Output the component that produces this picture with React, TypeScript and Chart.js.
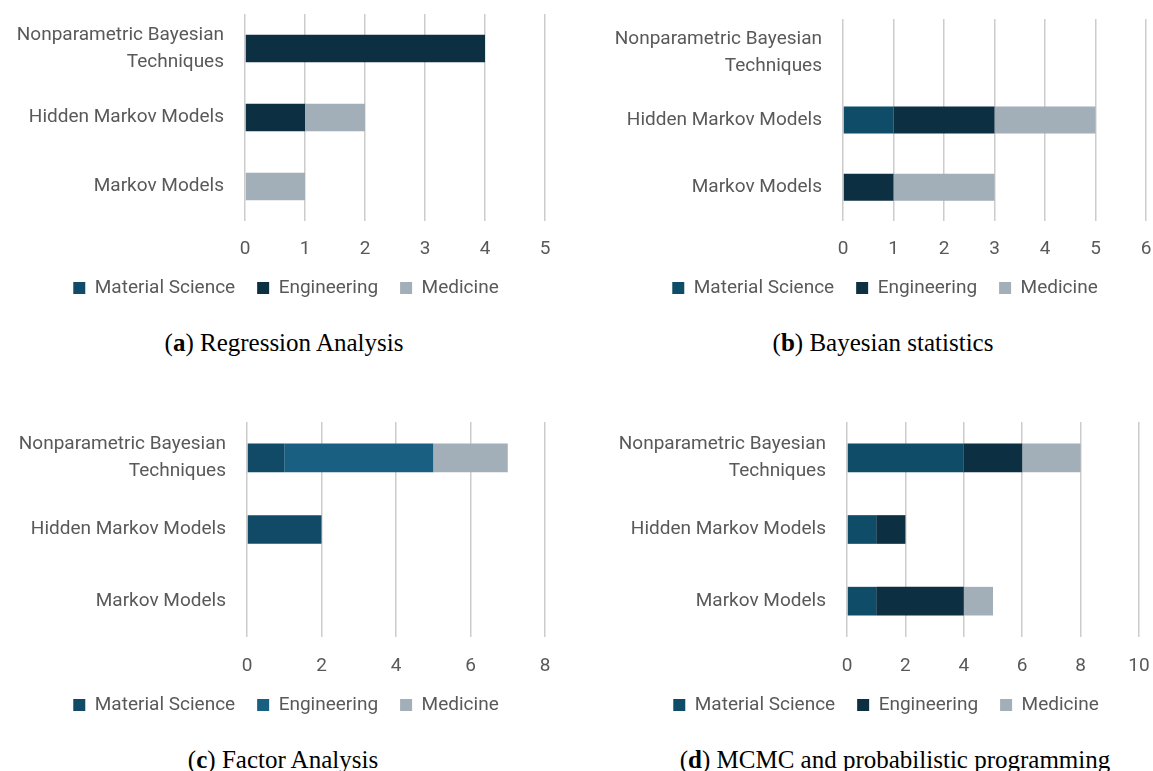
import React, { useEffect, useRef } from "react";
import { Chart, registerables } from "chart.js";

Chart.register(...registerables);

// ---- data ----
const categories = ["Nonparametric Bayesian Techniques", "Hidden Markov Models", "Markov Models"];
const categoryTickLabels: (string | string[])[] = [
  ["Nonparametric Bayesian", "Techniques"],
  "Hidden Markov Models",
  "Markov Models",
];
const seriesNames = ["Material Science", "Engineering", "Medicine"];

// (a) Regression Analysis
const regressionMaterial = [0, 0, 0];
const regressionEngineering = [4, 1, 0];
const regressionMedicine = [0, 1, 1];

// (b) Bayesian statistics
const bayesianMaterial = [0, 1, 0];
const bayesianEngineering = [0, 2, 1];
const bayesianMedicine = [0, 2, 2];

// (c) Factor Analysis
const factorMaterial = [1, 2, 0];
const factorEngineering = [4, 0, 0];
const factorMedicine = [2, 0, 0];

// (d) MCMC and probabilistic programming
const mcmcMaterial = [4, 1, 1];
const mcmcEngineering = [2, 1, 3];
const mcmcMedicine = [2, 0, 1];

const xMaxA = 5, xStepA = 1;
const xMaxB = 6, xStepB = 1;
const xMaxC = 8, xStepC = 2;
const xMaxD = 10, xStepD = 2;

// ---- styles ----
const colorsStandard = ["#0f4c68", "#0c2f42", "#a2aeb8"];
const colorsFactor = ["#104a67", "#185f81", "#a2aeb8"];
const textColor = "#595959";
const gridColor = "#cccccc";
const sansFamily = "Roboto, 'Liberation Sans', Arial, sans-serif";

type PanelLayout = {
  left: number; top: number; width: number; height: number;
  padT: number; padB: number; padR: number;
  xAxisH: number; tickPad: number; yAxisW: number; legendDx: number;
};

type PanelProps = {
  values: number[][];
  colors: string[];
  xMax: number;
  xStep: number;
  layout: PanelLayout;
};

const legendShiftPlugin = {
  id: "legendShift",
  afterLayout(chart: any, _args: any, opts: any) {
    const lg = chart.legend;
    if (lg && opts && opts.dx) {
      lg.left += opts.dx;
      lg.right += opts.dx;
    }
  },
};

function Panel({ values, colors, xMax, xStep, layout }: PanelProps) {
  const ref = useRef<HTMLCanvasElement | null>(null);
  useEffect(() => {
    if (!ref.current) return;
    const chart = new Chart(ref.current, {
      type: "bar",
      data: {
        labels: categoryTickLabels as any,
        datasets: seriesNames.map((name, i) => ({
          label: name,
          data: values[i],
          backgroundColor: colors[i],
          borderWidth: 0,
          barPercentage: 0.4,
          categoryPercentage: 1,
        })),
      },
      plugins: [legendShiftPlugin],
      options: {
        indexAxis: "y",
        animation: false,
        responsive: false,
        maintainAspectRatio: false,
        devicePixelRatio: 1,
        layout: {
          padding: { left: 0, right: layout.padR, top: layout.padT, bottom: layout.padB },
        },
        plugins: {
          legendShift: { dx: layout.legendDx },
          legend: {
            position: "bottom",
            labels: {
              boxWidth: 12,
              boxHeight: 12,
              padding: 22,
              color: textColor,
              font: { family: sansFamily, size: 19 },
            },
          },
          tooltip: { enabled: false },
          title: { display: false },
        },
        scales: {
          x: {
            stacked: true,
            min: 0,
            max: xMax,
            ticks: {
              stepSize: xStep,
              color: textColor,
              padding: layout.tickPad,
              font: { family: sansFamily, size: 19, lineHeight: 1.2 },
            },
            grid: { color: gridColor, lineWidth: 1.5, drawTicks: false },
            border: { display: false },
            afterFit: (s: any) => {
              s.height = layout.xAxisH;
              s.paddingLeft = 0;
              s.paddingRight = 0;
            },
          },
          y: {
            stacked: true,
            grid: { display: false, drawTicks: false },
            border: { display: false },
            ticks: {
              color: textColor,
              padding: 21,
              font: { family: sansFamily, size: 19, lineHeight: 1.4 },
            },
            afterFit: (s: any) => {
              s.width = layout.yAxisW;
              s.paddingTop = 0;
              s.paddingBottom = 0;
            },
          },
        },
      } as any,
    });
    return () => chart.destroy();
  }, []);
  return (
    <canvas
      ref={ref}
      width={layout.width}
      height={layout.height}
      style={{ position: "absolute", left: layout.left, top: layout.top, width: layout.width, height: layout.height }}
    />
  );
}

const layoutA: PanelLayout = { left: 0, top: 0, width: 555, height: 310, padT: 14, padB: 2.5, padR: 10, xAxisH: 35.5, tickPad: 17, yAxisW: 245, legendDx: 13.5 };
const layoutB: PanelLayout = { left: 580, top: 0, width: 576, height: 310, padT: 19, padB: 2.5, padR: 10, xAxisH: 35.5, tickPad: 17, yAxisW: 263, legendDx: 22 };
const layoutC: PanelLayout = { left: 0, top: 400, width: 555, height: 327, padT: 22, padB: 2.5, padR: 10, xAxisH: 36.5, tickPad: 18, yAxisW: 247, legendDx: 13.5 };
const layoutD: PanelLayout = { left: 580, top: 400, width: 569, height: 327, padT: 22, padB: 2.5, padR: 10, xAxisH: 36.5, tickPad: 18, yAxisW: 267, legendDx: 26.5 };

function Caption({ cx, cy, letter, text }: { cx: number; cy: number; letter: string; text: string }) {
  return (
    <div
      style={{
        position: "absolute",
        left: cx - 300,
        top: cy - 15,
        width: 600,
        height: 30,
        lineHeight: "30px",
        textAlign: "center",
        fontFamily: "'Liberation Serif', 'DejaVu Serif', serif",
        fontSize: 25,
        color: "#000",
        whiteSpace: "nowrap",
      }}
    >
      (<b>{letter}</b>) {text}
    </div>
  );
}

export default function App() {
  return (
    <div
      style={{
        position: "absolute",
        left: 0,
        top: 0,
        width: 1153,
        height: 771,
        overflow: "hidden",
        background: "#ffffff",
      }}
      aria-label={categories.join(", ")}
    >
      <Panel values={[regressionMaterial, regressionEngineering, regressionMedicine]} colors={colorsStandard} xMax={xMaxA} xStep={xStepA} layout={layoutA} />
      <Panel values={[bayesianMaterial, bayesianEngineering, bayesianMedicine]} colors={colorsStandard} xMax={xMaxB} xStep={xStepB} layout={layoutB} />
      <Panel values={[factorMaterial, factorEngineering, factorMedicine]} colors={colorsFactor} xMax={xMaxC} xStep={xStepC} layout={layoutC} />
      <Panel values={[mcmcMaterial, mcmcEngineering, mcmcMedicine]} colors={colorsStandard} xMax={xMaxD} xStep={xStepD} layout={layoutD} />
      <Caption cx={284} cy={343} letter="a" text="Regression Analysis" />
      <Caption cx={883} cy={343} letter="b" text="Bayesian statistics" />
      <Caption cx={283} cy={760} letter="c" text="Factor Analysis" />
      <Caption cx={895} cy={760} letter="d" text="MCMC and probabilistic programming" />
    </div>
  );
}
